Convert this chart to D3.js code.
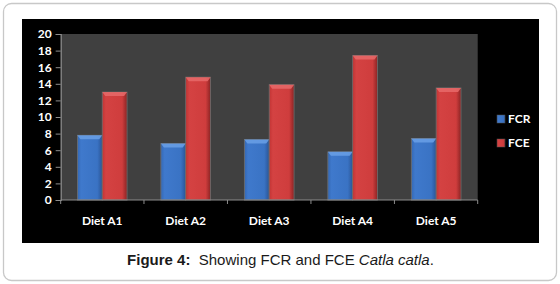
<!DOCTYPE html>
<html>
<head>
<meta charset="utf-8">
<script src="https://cdn.jsdelivr.net/npm/d3@7"></script>
<style>
  body { margin: 0; background: #fff; }
  svg { display: block; }
</style>
</head>
<body>
<svg id="chart"></svg>
<script>
const categories = ['Diet A1', 'Diet A2', 'Diet A3', 'Diet A4', 'Diet A5'];
const seriesNames = ['FCR', 'FCE'];
const fcrValues = [7.8, 6.8, 7.3, 5.8, 7.4];
const fceValues = [13, 14.8, 13.9, 17.4, 13.5];
const yTicks = [0, 2, 4, 6, 8, 10, 12, 14, 16, 18, 20];

const width = 560, height = 284;
const plot = { left: 60.7, right: 477.7, top: 34, bottom: 200 };

const svg = d3.select('#chart').attr('width', width).attr('height', height);

// outer frame
svg.append('rect')
  .attr('x', 3.5).attr('y', 3.5)
  .attr('width', 553).attr('height', 277)
  .attr('rx', 8)
  .attr('fill', '#fff')
  .attr('stroke', '#c8c8c8')
  .attr('stroke-width', 1.3);

// black chart background
svg.append('rect')
  .attr('x', 22).attr('y', 19)
  .attr('width', 517).attr('height', 224)
  .attr('fill', '#000');

// plot area
svg.append('rect')
  .attr('x', plot.left).attr('y', plot.top)
  .attr('width', plot.right - plot.left).attr('height', plot.bottom - plot.top)
  .attr('fill', '#404040');

const defs = svg.append('defs');
const grad = (id, stops) => {
  const g = defs.append('linearGradient').attr('id', id)
    .attr('x1', 0).attr('x2', 1).attr('y1', 0).attr('y2', 0);
  stops.forEach(s => g.append('stop').attr('offset', s[0]).attr('stop-color', s[1]));
};
grad('gFCR', [[0, '#3468b4'], [0.15, '#3f79cc'], [0.8, '#3a73c4'], [1, '#2a5596']]);
grad('gFCE', [[0, '#c23434'], [0.15, '#d44242'], [0.8, '#cf3d3d'], [1, '#8c2424']]);
const capColor = { FCR: '#6aa0e6', FCE: '#e86a6a' };

const x0 = d3.scaleBand()
  .domain(categories)
  .range([plot.left, plot.right])
  .paddingInner(0.405)
  .paddingOuter(0.2);

const x1 = d3.scaleBand()
  .domain(seriesNames)
  .range([0, x0.bandwidth()]);

const y = d3.scaleLinear()
  .domain([0, 20])
  .range([plot.bottom, plot.top]);

const table = categories.map((c, i) => ({ cat: c, FCR: fcrValues[i], FCE: fceValues[i] }));

const groups = svg.append('g')
  .selectAll('g')
  .data(table)
  .join('g')
  .attr('transform', d => `translate(${x0(d.cat)},0)`);

const bars = groups.selectAll('g')
  .data(d => seriesNames.map(s => ({ s, v: d[s] })))
  .join('g');

bars.append('rect')
  .attr('x', d => x1(d.s))
  .attr('y', d => y(d.v))
  .attr('width', x1.bandwidth())
  .attr('height', d => y(0) - y(d.v))
  .attr('fill', d => `url(#g${d.s})`)
  .attr('stroke', '#6e6e6e')
  .attr('stroke-width', 0.8);

// bevel cap on top of each bar
bars.append('path')
  .attr('d', d => {
    const xa = x1(d.s), xb = xa + x1.bandwidth(), yt = y(d.v);
    return `M${xa},${yt}L${xb},${yt}L${xb - 3},${yt + 4}L${xa + 3},${yt + 4}Z`;
  })
  .attr('fill', d => capColor[d.s])
  .attr('opacity', 0.85);

// axes
const yAxis = svg.append('g')
  .attr('transform', `translate(${plot.left},0)`)
  .call(d3.axisLeft(y).tickValues(yTicks).tickSize(5).tickPadding(4));

const xAxis = svg.append('g')
  .attr('transform', `translate(0,${plot.bottom})`)
  .call(d3.axisBottom(x0).tickSize(0).tickPadding(16));

// category boundary ticks
const bounds = categories.map(c => x0(c) - x0.step() * x0.paddingInner() / 2);
bounds[0] = plot.left;
bounds.push(plot.right);
xAxis.selectAll('.bound')
  .data(bounds)
  .join('line')
  .attr('class', 'bound')
  .attr('x1', d => d).attr('x2', d => d)
  .attr('y1', 0).attr('y2', 4)
  .attr('stroke', '#8c8c8c');

[yAxis, xAxis].forEach(a => {
  a.selectAll('.domain').attr('stroke', '#8c8c8c').attr('stroke-width', 1.2);
  a.selectAll('.tick line').attr('stroke', '#8c8c8c');
  a.selectAll('text')
    .attr('fill', '#fff')
    .style('font-family', 'Lato, "Open Sans", sans-serif')
    .style('font-weight', 'bold')
    .style('font-size', '12px');
});
xAxis.select('.domain').attr('d', `M${plot.left},0H${plot.right}`);

// legend
const legend = svg.append('g')
  .selectAll('g')
  .data(seriesNames)
  .join('g')
  .attr('transform', (d, i) => `translate(497,${115 + i * 24})`);

legend.append('rect')
  .attr('width', 8).attr('height', 8)
  .attr('fill', d => `url(#g${d})`)
  .attr('stroke', '#555')
  .attr('stroke-width', 0.5);

legend.append('text')
  .attr('x', 11).attr('y', 4)
  .attr('dy', '0.35em')
  .attr('fill', '#fff')
  .style('font-family', 'Lato, "Open Sans", sans-serif')
  .style('font-weight', 'bold')
  .style('font-size', '12px')
  .text(d => d);

// caption
const caption = svg.append('text')
  .attr('x', 280.5).attr('y', 265)
  .attr('text-anchor', 'middle')
  .attr('fill', '#1a1a1a')
  .style('font-family', '"Liberation Sans", Arial, sans-serif')
  .style('font-size', '15px');
caption.append('tspan').style('font-weight', 'bold').text('Figure 4:');
caption.append('tspan').text('\u00a0 Showing FCR and FCE ');
caption.append('tspan').style('font-style', 'italic').text('Catla catla');
caption.append('tspan').text('.');
</script>
</body>
</html>
